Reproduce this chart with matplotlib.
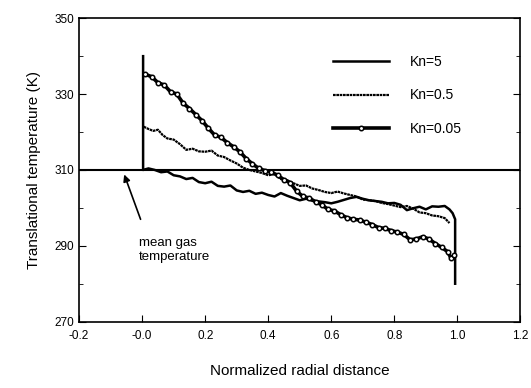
import matplotlib
matplotlib.use("Agg")
import matplotlib.pyplot as plt
from matplotlib.ticker import MultipleLocator

plt.rcParams['font.family'] = ['Liberation Sans', 'DejaVu Sans']

# Kn=5 (includes the wall jumps at x=0 and x=1)
x_kn5 = [0.003, 0.003, 0.02, 0.04, 0.06, 0.08, 0.10, 0.12, 0.14, 0.16, 0.18, 0.20,
         0.22, 0.24, 0.26, 0.28, 0.30, 0.32, 0.34, 0.36, 0.38, 0.40, 0.42, 0.44,
         0.46, 0.48, 0.50, 0.52, 0.54, 0.56, 0.58, 0.60, 0.62, 0.64, 0.66, 0.68,
         0.70, 0.72, 0.74, 0.76, 0.78, 0.80, 0.82, 0.84, 0.86, 0.88, 0.90, 0.92,
         0.94, 0.96, 0.975, 0.985, 0.993, 0.993]
t_kn5 = [340, 310, 310.4, 310.0, 309.4, 309.6, 308.6, 308.3, 307.6, 307.9, 306.8, 306.5,
         306.9, 305.8, 305.6, 305.9, 304.6, 304.2, 304.5, 303.7, 304.0, 303.4, 303.0, 303.9,
         303.2, 302.6, 302.0, 302.4, 301.9, 301.7, 301.5, 301.2, 301.6, 302.1, 302.6, 302.9,
         302.4, 302.0, 301.8, 301.6, 301.2, 301.3, 300.8, 299.4, 299.9, 300.3, 299.6, 300.4,
         300.3, 300.5, 299.6, 298.6, 297.0, 280.0]

# Kn=0.5
x_kn05 = [0.005, 0.02, 0.035, 0.05, 0.065, 0.08, 0.10, 0.12, 0.14, 0.16, 0.18, 0.20,
          0.22, 0.24, 0.26, 0.28, 0.30, 0.32, 0.34, 0.36, 0.38, 0.40, 0.42, 0.44,
          0.46, 0.48, 0.50, 0.52, 0.54, 0.56, 0.58, 0.60, 0.62, 0.64, 0.66, 0.68,
          0.70, 0.72, 0.74, 0.76, 0.78, 0.80, 0.82, 0.84, 0.86, 0.88, 0.90, 0.92,
          0.94, 0.96, 0.975]
t_kn05 = [321.4, 320.8, 320.3, 320.6, 319.2, 318.3, 318.0, 316.8, 315.3, 315.6, 314.9, 314.8,
          315.1, 313.8, 313.4, 312.5, 311.7, 310.6, 310.0, 309.6, 309.2, 308.6, 308.9, 307.6,
          307.3, 306.5, 305.8, 305.9, 305.1, 304.7, 304.2, 303.9, 304.3, 303.8, 303.4, 303.0,
          302.2, 302.0, 301.8, 301.3, 301.0, 300.6, 300.2, 300.5, 299.8, 298.8, 298.6, 298.0,
          297.8, 297.3, 296.0]

# Kn=0.05
x_kn005 = [0.01, 0.03, 0.05, 0.07, 0.09, 0.11, 0.13, 0.15, 0.17, 0.19, 0.21, 0.23,
           0.25, 0.27, 0.29, 0.31, 0.33, 0.35, 0.37, 0.39, 0.41, 0.43, 0.45, 0.47,
           0.49, 0.51, 0.53, 0.55, 0.57, 0.59, 0.61, 0.63, 0.65, 0.67, 0.69, 0.71,
           0.73, 0.75, 0.77, 0.79, 0.81, 0.83, 0.85, 0.87, 0.89, 0.91, 0.93, 0.95,
           0.97, 0.98, 0.99]
t_kn005 = [335.2, 334.6, 333.0, 332.4, 330.6, 330.0, 327.6, 326.2, 324.6, 323.0, 321.0, 319.2,
           318.6, 317.2, 316.1, 314.8, 313.0, 311.6, 310.4, 309.8, 309.4, 308.6, 307.4, 306.6,
           304.4, 303.0, 302.6, 301.6, 300.8, 299.6, 299.2, 298.2, 297.4, 297.0, 296.8, 296.2,
           295.6, 294.8, 294.6, 294.0, 293.6, 293.0, 291.6, 291.8, 292.4, 291.8, 290.6, 289.6,
           288.4, 286.7, 287.5]

mean_gas_t = 310
x_ticks = [-0.2, 0.0, 0.2, 0.4, 0.6, 0.8, 1.0, 1.2]
x_ticklabels = ['-0.2', '-0.0', '0.2', '0.4', '0.6', '0.8', '1.0', '1.2']
y_ticks = [270, 290, 310, 330, 350]

fig = plt.figure(figsize=(5.31, 3.88), dpi=100)
ax = fig.add_axes([0.149, 0.171, 0.831, 0.782])

ax.axhline(mean_gas_t, color='black', lw=1.5, zorder=1)
ax.plot(x_kn5, t_kn5, color='black', lw=1.8, label='Kn=5')
ax.plot(x_kn05, t_kn05, color='black', lw=1.6, ls=(0, (1.2, 0.3)), label='Kn=0.5')
ax.plot(x_kn005, t_kn005, color='black', lw=2.6, marker='o', ms=3.2,
        mfc='white', mec='black', mew=1.1, label='Kn=0.05')

ax.set_xlim(-0.2, 1.2)
ax.set_ylim(270, 350)
ax.set_xticks(x_ticks)
ax.set_xticklabels(x_ticklabels)
ax.set_yticks(y_ticks)
ax.yaxis.set_minor_locator(MultipleLocator(10))
ax.tick_params(axis='both', which='both', direction='in', labelsize=8.5)
ax.tick_params(axis='y', which='both', right=True)
ax.tick_params(axis='y', which='major', length=5)
ax.tick_params(axis='y', which='minor', length=3)
ax.tick_params(axis='x', which='major', length=5, pad=6)
for s in ax.spines.values():
    s.set_linewidth(1.2)

ax.set_xlabel('Normalized radial distance', fontsize=11, labelpad=16)
ax.set_ylabel('Translational temperature (K)', fontsize=11, labelpad=10)

ax.annotate('', xy=(-0.06, 309.5), xytext=(-0.002, 296.3),
            arrowprops=dict(arrowstyle='-|>', color='black', lw=1.2,
                            mutation_scale=10))
ax.text(-0.01, 292.2, 'mean gas\ntemperature', fontsize=9.5, va='top', ha='left',
        linespacing=1.15)

ax.legend(loc='upper right', bbox_to_anchor=(0.895, 0.92), frameon=False,
          fontsize=10, handlelength=4.0, handletextpad=1.5, labelspacing=1.4,
          numpoints=1, markerscale=1.0)

fig.savefig('out.png', dpi=100)
